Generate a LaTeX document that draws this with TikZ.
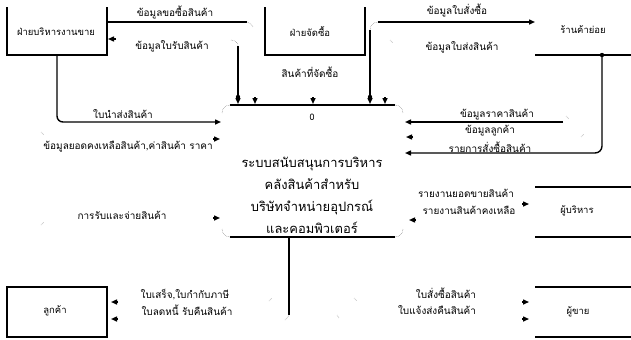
\documentclass[tikz,border=0pt]{standalone}
\usepackage{fontspec}
\setmainfont[Script=Thai]{Loma}
\usetikzlibrary{arrows.meta}
\begin{document}
\begin{tikzpicture}[x=1bp,y=-1bp,line width=1.4bp,
  flow/.style={-{Triangle[length=6bp,width=5bp]}},
  box/.style={line width=1.7bp},
  lbl/.style={font=\fontsize{10}{11}\selectfont,inner sep=0pt},
  ent/.style={font=\fontsize{9.5}{10}\selectfont,inner sep=0pt},
  faint/.style={line width=0.5bp,densely dotted,gray},
  jdot/.style={fill=black,draw=none}]
\useasboundingbox (0,0) rectangle (631,339);

% external entities
\draw[box] (7,7) -- (7,55) -- (107,55) -- (107,7);
\node[ent] (e1) at (56,32) {ฝ่ายบริหารงานขาย};
\draw[box] (265,7) -- (265,55) -- (365,55) -- (365,7);
\node[ent] (e2) at (310,32) {ฝ่ายจัดซื้อ};
\node[lbl] (l0) at (310,72) {สินค้าที่จัดซื้อ};
\node[ent] (e3) at (583,30) {ร้านค้าย่อย};
\draw[box] (535,55) -- (631,55);
\draw[box] (535,187) -- (631,187);
\draw[box] (535,237) -- (631,237);
\node[ent] (e4) at (577,211) {ผู้บริหาร};
\draw[box] (535,287) -- (631,287);
\draw[box] (535,337) -- (631,337);
\node[ent] (e5) at (578,312) {ผู้ขาย};
\draw[box] (7,287) rectangle (107,337);
\node[ent] (e6) at (55,311) {ลูกค้า};

% process
\draw (230,105) -- (395,105);
\draw (230,237) -- (395,237);
\draw[faint] (230,105) to[out=180,in=90] (222,113);
\draw[faint] (395,105) to[out=0,in=90] (403,113);
\draw[faint] (222,229) to[out=270,in=180] (230,237);
\draw[faint] (403,229) to[out=270,in=0] (395,237);
\node[font=\fontsize{9}{10}\selectfont] (pn) at (312,117) {0};
\node[font=\fontsize{13}{22}\selectfont,align=center,inner sep=0pt] (pt) at (312,195)
  {ระบบสนับสนุนการบริหาร\\คลังสินค้าสำหรับ\\บริษัทจำหน่ายอุปกรณ์\\และคอมพิวเตอร์};

% top-left flows
\draw (107,22) -- (247,22);
\draw[faint] (247,22) to[out=0,in=120] (253,27);
\node[lbl] (l1) at (175,13) {ข้อมูลขอซื้อสินค้า};
\draw[flow] (116,39) -- (108,39);
\node[lbl] (l2) at (172,46) {ข้อมูลใบรับสินค้า};
\draw[faint] (231,40) to[out=0,in=90] (238,46);
\draw[flow] (238,46) -- (238,104);
\fill[jdot] (238,97) circle (2.2);
\draw[flow] (255,97) -- (255,104);
\draw[flow] (313,97) -- (313,104);
\draw[flow] (385,97) -- (385,104);

% top-right flows
\draw[faint] (370,30) to[out=90,in=180] (378,22);
\draw[flow] (378,22) -- (535,22);
\draw[flow] (370,30) -- (370,104);
\fill[jdot] (370,97) circle (2.2);
\node[lbl] (l3) at (457,11) {ข้อมูลใบสั่งซื้อ};
\node[lbl] (l4) at (462,47) {ข้อมูลใบส่งสินค้า};
\draw[faint] (390,40) -- (393,43);

% right flows
\fill[jdot] (602,55) circle (2.2);
\draw[flow,rounded corners=7] (602,55) -- (602,153) -- (405,153);
\draw[flow] (563,122) -- (405,122);
\draw[faint] (566,116) -- (569,119);
\draw[flow] (413,137) -- (406,137);
\draw[faint] (581,137) -- (584,134);
\node[lbl] (l5) at (497,115) {ข้อมูลราคาสินค้า};
\node[lbl] (l6) at (490,131) {ข้อมูลลูกค้า};
\node[lbl] (l7) at (490,147) {รายการสั่งซื้อสินค้า};

\draw[flow] (522,204) -- (529,204);
\draw[flow] (416,220) -- (409,220);
\node[lbl] (l8) at (466,193) {รายงานยอดขายสินค้า};
\node[lbl] (l9) at (469,210) {รายงานสินค้าคงเหลือ};

% left flows
\draw[flow,rounded corners=6] (57,55) -- (57,122) -- (221,122);
\node[lbl] (l10) at (123,114) {ใบนำส่งสินค้า};
\draw[flow] (213,139) -- (220,139);
\draw[faint] (41,132) -- (44,135);
\node[lbl] (l11) at (128,147) {ข้อมูลยอดคงเหลือสินค้า,ค่าสินค้า ราคา};
\draw[flow] (213,218) -- (220,218);
\draw[faint] (41,225) -- (44,222);
\node[lbl] (l12) at (122,215) {การรับและจ่ายสินค้า};

% bottom flows
\draw (289,237) -- (289,315);
\draw[faint] (289,315) to[out=270,in=60] (285,320);
\draw[faint] (269,301) -- (272,298);
\draw[flow] (118,302) -- (111,302);
\draw[flow] (118,319) -- (111,319);
\node[lbl] (l13) at (185,295) {ใบเสร็จ,ใบกำกับภาษี};
\node[lbl] (l14) at (187,310) {ใบลดหนี้ รับคืนสินค้า};
\draw[flow] (522,302) -- (529,302);
\draw[flow] (522,319) -- (529,319);
\draw[faint] (354,298) -- (357,301);
\draw[faint] (337,315) -- (339,318);
\node[lbl] (l15) at (446,293) {ใบสั่งซื้อสินค้า};
\node[lbl] (l16) at (437,310) {ใบแจ้งส่งคืนสินค้า};
\end{tikzpicture}
\end{document}
